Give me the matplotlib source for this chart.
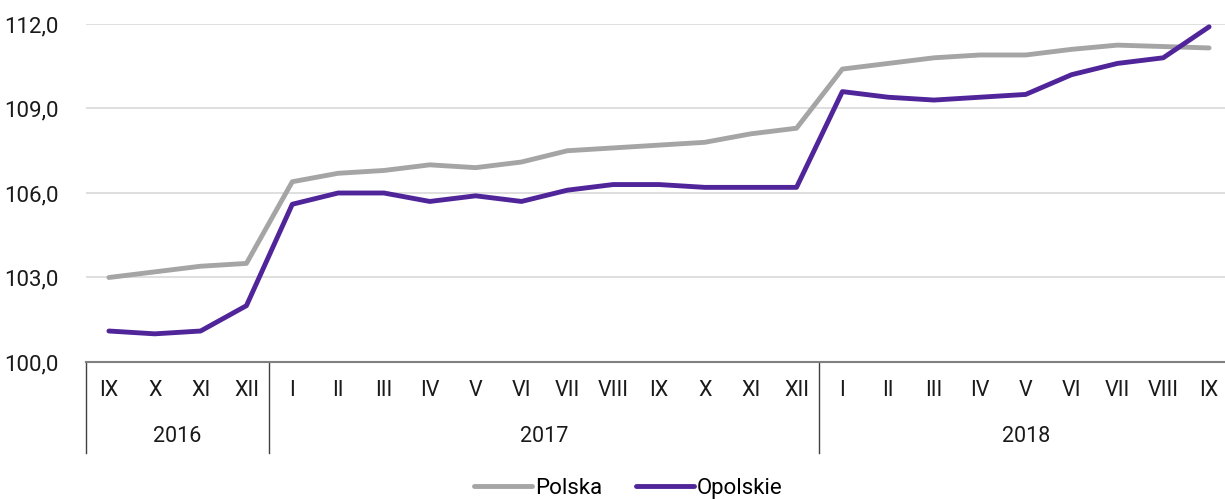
import matplotlib
matplotlib.use('Agg')
import numpy as np
from matplotlib import pyplot as plt
import matplotlib.transforms as mtransforms

plt.rcParams['font.family'] = ['Roboto', 'DejaVu Sans']

months = ['IX', 'X', 'XI', 'XII',
          'I', 'II', 'III', 'IV', 'V', 'VI', 'VII', 'VIII', 'IX', 'X', 'XI', 'XII',
          'I', 'II', 'III', 'IV', 'V', 'VI', 'VII', 'VIII', 'IX']
years = ['2016', '2017', '2018']
year_counts = [4, 12, 9]

polska = [103.0, 103.2, 103.4, 103.5,
          106.4, 106.7, 106.8, 107.0, 106.9, 107.1, 107.5, 107.6, 107.7, 107.8, 108.1, 108.3,
          110.4, 110.6, 110.8, 110.9, 110.9, 111.1, 111.25, 111.2, 111.15]
opolskie = [101.1, 101.0, 101.1, 102.0,
            105.6, 106.0, 106.0, 105.7, 105.9, 105.7, 106.1, 106.3, 106.3, 106.2, 106.2, 106.2,
            109.6, 109.4, 109.3, 109.4, 109.5, 110.2, 110.6, 110.8, 111.9]
yticks = [100, 103, 106, 109, 112]

W, H = 1225, 499
fig = plt.figure(figsize=(W / 100, H / 100), dpi=100)
ax = fig.add_axes([86 / W, 1 - 362 / H, (1232 - 86) / W, (362 - 24) / H])

x = np.arange(len(months))
ax.plot(x, polska, color='#A5A5A5', lw=3.5, solid_capstyle='round', label='Polska', clip_on=False)
ax.plot(x, opolskie, color='#51259A', lw=3.5, solid_capstyle='round', label='Opolskie', clip_on=False)

ax.set_xlim(-0.5, len(months) - 0.5)
ax.set_ylim(100, 112)
ax.set_yticks(yticks)
ax.set_yticklabels([f'{v:.1f}'.replace('.', ',') for v in yticks], fontsize=16, color='#1a1a1a')
ax.tick_params(axis='y', length=0, pad=20)
ax.yaxis.grid(True, color='#D9D9D9', lw=1.2)
ax.set_axisbelow(True)
ax.set_xticks([])
for s in ['top', 'right', 'left']:
    ax.spines[s].set_visible(False)
ax.spines['bottom'].set_color('#808080')
ax.spines['bottom'].set_linewidth(1.5)

trans = mtransforms.blended_transform_factory(ax.transData, ax.transAxes)
for i, m in enumerate(months):
    ax.text(i, -28 / 338, m, transform=trans, ha='center', va='center', fontsize=15.5, color='#1a1a1a')

start = 0
for yr, n in zip(years, year_counts):
    ax.text(start + n / 2 - 0.5, -75 / 338, yr, transform=trans, ha='center', va='center',
            fontsize=15.5, color='#1a1a1a')
    ax.plot([start - 0.5, start - 0.5], [0, -91 / 338], transform=trans, color='#404040',
            lw=1, clip_on=False)
    start += n

fig.legend(loc='lower center', bbox_to_anchor=(0.513, -0.04), ncol=2, frameon=False,
           fontsize=16, handlelength=2.6, handletextpad=0.15, columnspacing=1.5)

fig.savefig('out.png', dpi=100)
